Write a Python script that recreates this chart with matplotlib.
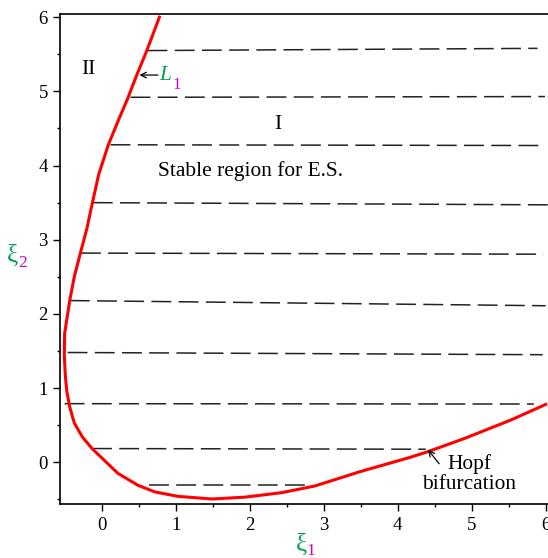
import matplotlib
matplotlib.use("Agg")
import matplotlib.pyplot as plt

plt.rcParams['font.family'] = ['Liberation Serif', 'DejaVu Serif']

# red stability boundary L1 (xi1, xi2)
curve_x = [6.00, 5.53, 4.90, 4.40, 4.17, 3.49, 2.88, 2.43, 1.94, 1.49, 1.035,
           0.72, 0.49, 0.22, 0.00, -0.13, -0.26, -0.37, -0.43, -0.47, -0.49, -0.505,
           -0.50, -0.43, -0.37, -0.29, -0.20, -0.127, -0.04, 0.09, 0.23, 0.35, 0.47,
           0.61, 0.78]
curve_y = [0.78, 0.57, 0.32, 0.14, 0.067, -0.127, -0.32, -0.41, -0.47, -0.495, -0.46,
           -0.40, -0.31, -0.15, 0.06, 0.185, 0.34, 0.53, 0.74, 0.95, 1.15, 1.45,
           1.74, 2.19, 2.50, 2.81, 3.15, 3.49, 3.88, 4.28, 4.62, 4.90, 5.21,
           5.55, 6.00]

# dashed lines: start/end points
dash_x0 = [0.62, 0.39, 0.12, -0.12, -0.28, -0.43, -0.46, -0.50, -0.13, 0.64]
dash_x1 = [5.89, 5.99, 5.97, 6.10, 5.97, 6.00, 5.96, 5.84, 4.38, 2.82]
dash_y0 = [5.55, 4.92, 4.28, 3.50, 2.82, 2.18, 1.48, 0.79, 0.185, -0.31]
dash_y1 = [5.58, 4.93, 4.27, 3.47, 2.805, 2.11, 1.45, 0.785, 0.176, -0.31]

green = '#00a050'
magenta = '#cc00cc'

fig = plt.figure(figsize=(5.48, 5.58), dpi=100)
W, H = 548, 558
ax = fig.add_axes([60.3 / W, (H - 504) / H, 495 / W, 490 / H])

for x0, x1, y0, y1 in zip(dash_x0, dash_x1, dash_y0, dash_y1):
    ax.plot([x0, x1], [y0, y1], color='#222222', lw=1.1, dashes=(13.0, 4.8))

ax.plot(curve_x, curve_y, color='red', lw=2.2, solid_joinstyle='round')

ax.set_xticks(range(0, 7))
ax.set_yticks(range(0, 7))
ax.set_xticks([x + 0.5 for x in range(0, 6)], minor=True)
ax.set_yticks([y + 0.5 for y in range(-1, 6)], minor=True)
ax.set_xlim(-0.559, 6.13)
ax.set_ylim(-0.5625, 6.043)
ax.tick_params(which='major', length=5, width=1.0, labelsize=13.5, direction='out')
ax.tick_params(which='minor', length=2.3, width=1.0, direction='out')
ax.tick_params(axis='x', pad=4)
ax.tick_params(axis='y', pad=4)
ax.spines['right'].set_visible(False)
for s in ['left', 'bottom', 'top']:
    ax.spines[s].set_linewidth(1.2)

fs = 15.4
ax.text(-0.18, 5.30, 'II', fontsize=fs, ha='center', va='center')
ax.text(2.38, 4.55, 'I', fontsize=fs, ha='center', va='center')
ax.text(0.76, 3.93, 'Stable region for E.S.', fontsize=fs, ha='left', va='center')

# L1 label with arrow
ax.annotate('', xy=(0.51, 5.22), xytext=(0.76, 5.22),
            arrowprops=dict(arrowstyle='->', lw=0.9, color='black', shrinkA=0, shrinkB=0))
ax.text(0.78, 5.22, 'L', fontsize=fs, style='italic', color=green, ha='left', va='center')
ax.text(0.955, 5.08, '1', fontsize=12, color=magenta, ha='left', va='center')

# Hopf bifurcation label
ax.annotate('', xy=(4.41, 0.17), xytext=(4.56, -0.02),
            arrowprops=dict(arrowstyle='->', lw=0.9, color='black', shrinkA=0, shrinkB=0))
ax.text(4.97, -0.03, 'Hopf', fontsize=fs, ha='center', va='center')
ax.text(4.97, -0.30, 'bifurcation', fontsize=fs, ha='center', va='center')

# axis labels (xi in green, subscript in magenta)
fig.text(296 / W, 1 - 545 / H, '\u03be', fontsize=18, color=green, ha='left', va='center')
fig.text(306 / W, 1 - 551 / H, '1', fontsize=12.5, color=magenta, ha='left', va='center')
fig.text(7 / W, 1 - 256 / H, '\u03be', fontsize=18, color=green, ha='left', va='center')
fig.text(18.5 / W, 1 - 263 / H, '2', fontsize=12.5, color=magenta, ha='left', va='center')

fig.savefig('out.png', dpi=100)
